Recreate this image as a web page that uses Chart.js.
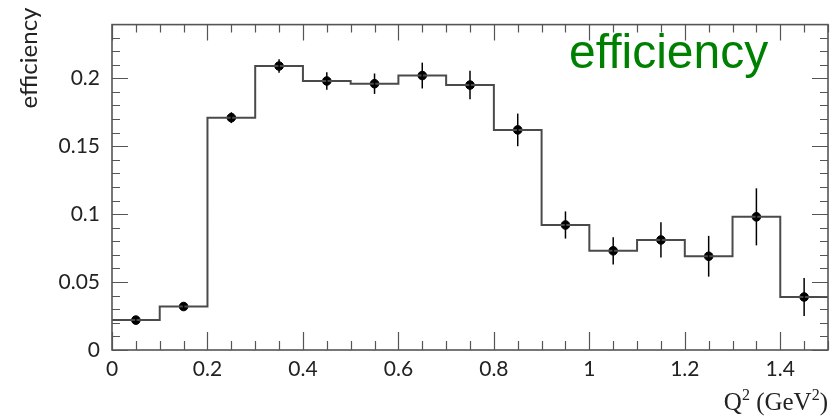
<!DOCTYPE html>
<html>
<head>
<meta charset="utf-8">
<script src="https://cdn.jsdelivr.net/npm/chart.js@4.4.0/dist/chart.umd.min.js"></script>
<style>
  html, body { margin: 0; padding: 0; background: #fff; }
  #wrap { width: 837px; height: 418px; }
</style>
</head>
<body>
<div id="wrap"><canvas id="effChart"></canvas></div>
<script>
// Q^2 bins (GeV^2), width 0.1
const binCenters = [0.05, 0.15, 0.25, 0.35, 0.45, 0.55, 0.65, 0.75, 0.85, 0.95, 1.05, 1.15, 1.25, 1.35, 1.45]
const efficiency = [0.022, 0.032, 0.171, 0.209, 0.198, 0.196, 0.202, 0.195, 0.162, 0.092, 0.073, 0.081, 0.069, 0.098, 0.039]
const effErrors = [0.002, 0.002, 0.004, 0.005, 0.0065, 0.0075, 0.0095, 0.0105, 0.012, 0.010, 0.010, 0.013, 0.015, 0.021, 0.014]
const binWidth = 0.1

const xRange = [0, 1.5]
const yRange = [0, 0.2395]
const xMajor = 0.2, xMinor = 0.05
const yMajor = 0.05, yMinor = 0.01

const lineColor = '#4a4a4a'
const labelFont = 'Lato, "Open Sans", sans-serif'

// histogram outline: one step per bin, closed at the upper edge of the last bin
const stepPoints = binCenters.map((c, i) => ({ x: c - binWidth / 2, y: efficiency[i] }))
stepPoints.push({ x: binCenters[binCenters.length - 1] + binWidth / 2, y: efficiency[efficiency.length - 1] })

const markerPoints = binCenters.map((c, i) => ({ x: c, y: efficiency[i], err: effErrors[i] }))

// vertical error bars on the marker dataset
const errorBars = {
  id: 'errorBars',
  afterDatasetsDraw(chart) {
    const { ctx, scales: { x, y } } = chart
    ctx.save()
    ctx.strokeStyle = '#000'
    ctx.lineWidth = 1.5
    markerPoints.forEach(p => {
      const px = x.getPixelForValue(p.x)
      ctx.beginPath()
      ctx.moveTo(px, y.getPixelForValue(p.y - p.err))
      ctx.lineTo(px, y.getPixelForValue(p.y + p.err))
      ctx.stroke()
    })
    ctx.restore()
  }
}

// text with raised superscript pieces, laid out right to left from xRight
function drawSupText(ctx, parts, xRight, baseline, size) {
  const widths = parts.map(([t, sup]) => {
    ctx.font = (sup ? Math.round(size * 0.62) : size) + 'px "Liberation Serif", serif'
    return ctx.measureText(t).width
  })
  let xPos = xRight - widths.reduce((s, w) => s + w, 0)
  ctx.textAlign = 'left'
  ctx.textBaseline = 'alphabetic'
  parts.forEach(([t, sup], i) => {
    ctx.font = (sup ? Math.round(size * 0.62) : size) + 'px "Liberation Serif", serif'
    ctx.fillText(t, xPos, sup ? baseline - size * 0.42 : baseline)
    xPos += widths[i]
  })
}

// frame with inward ticks on all four sides, plus axis titles and the caption
const frame = {
  id: 'frame',
  afterDraw(chart) {
    const { ctx, chartArea: a, scales: { x, y } } = chart
    ctx.save()
    ctx.strokeStyle = '#555'
    ctx.lineWidth = 1.6
    ctx.strokeRect(a.left, a.top, a.right - a.left, a.bottom - a.top)

    ctx.lineWidth = 1.2
    ctx.beginPath()
    const nx = Math.round((xRange[1] - xRange[0]) / xMinor)
    for (let i = 0; i <= nx; i++) {
      const v = xRange[0] + i * xMinor
      const px = Math.round(x.getPixelForValue(v)) + 0.5
      const isMajor = Math.abs(v / xMajor - Math.round(v / xMajor)) < 1e-6
      ctx.moveTo(px, a.bottom); ctx.lineTo(px, a.bottom - (isMajor ? 18 : 9))
      ctx.moveTo(px, a.top); ctx.lineTo(px, a.top + (isMajor ? 16 : 8))
    }
    const ny = Math.floor((yRange[1] - yRange[0]) / yMinor + 1e-6)
    for (let i = 0; i <= ny; i++) {
      const v = yRange[0] + i * yMinor
      const py = Math.round(y.getPixelForValue(v)) + 0.5
      const isMajor = Math.abs(v / yMajor - Math.round(v / yMajor)) < 1e-6
      const len = isMajor ? 16 : 8
      ctx.moveTo(a.left, py); ctx.lineTo(a.left + len, py)
      ctx.moveTo(a.right, py); ctx.lineTo(a.right - len, py)
    }
    ctx.stroke()

    // axis titles
    ctx.fillStyle = '#222'
    ctx.font = '24px ' + labelFont
    ctx.save()
    ctx.translate(29, 58)
    ctx.rotate(-Math.PI / 2)
    ctx.textAlign = 'center'
    ctx.textBaseline = 'middle'
    ctx.fillText('efficiency', 0, 0)
    ctx.restore()

    drawSupText(ctx, [['Q', false], ['2', true], [' (GeV', false], ['2', true], [')', false]], a.right, 410, 25)

    // caption inside the frame
    ctx.fillStyle = '#008000'
    ctx.font = '48px "Liberation Sans", Arial, sans-serif'
    ctx.textAlign = 'left'
    ctx.textBaseline = 'alphabetic'
    ctx.fillText('efficiency', 569, 68)
    ctx.restore()
  }
}

new Chart(document.getElementById('effChart'), {
  type: 'scatter',
  data: {
    datasets: [
      {
        type: 'line',
        data: stepPoints,
        stepped: 'before',
        borderColor: lineColor,
        borderWidth: 2,
        pointRadius: 0,
        fill: false,
      },
      {
        data: markerPoints,
        backgroundColor: '#000',
        borderColor: '#000',
        pointRadius: 4.3,
        pointHoverRadius: 4.3,
      },
    ],
  },
  options: {
    responsive: true,
    maintainAspectRatio: false,
    animation: false,
    events: [],
    layout: { padding: { left: 0, right: 9, top: 8, bottom: 0 } },
    plugins: {
      legend: { display: false },
      tooltip: { enabled: false },
    },
    scales: {
      x: {
        type: 'linear',
        min: xRange[0],
        max: xRange[1],
        border: { display: false },
        grid: { display: false, drawTicks: false },
        ticks: {
          stepSize: xMajor,
          includeBounds: false,
          padding: 7,
          color: '#222',
          font: { family: labelFont, size: 21 },
          callback: v => Number(v.toFixed(1)).toString(),
        },
        afterFit: s => { s.height = 68 },
      },
      y: {
        type: 'linear',
        min: yRange[0],
        max: yRange[1],
        border: { display: false },
        grid: { display: false, drawTicks: false },
        ticks: {
          stepSize: yMajor,
          includeBounds: false,
          padding: 12,
          color: '#222',
          font: { family: labelFont, size: 21 },
          callback: v => Number(v.toFixed(2)).toString(),
        },
        afterFit: s => { s.width = 112 },
      },
    },
  },
  plugins: [errorBars, frame],
})
</script>
</body>
</html>
